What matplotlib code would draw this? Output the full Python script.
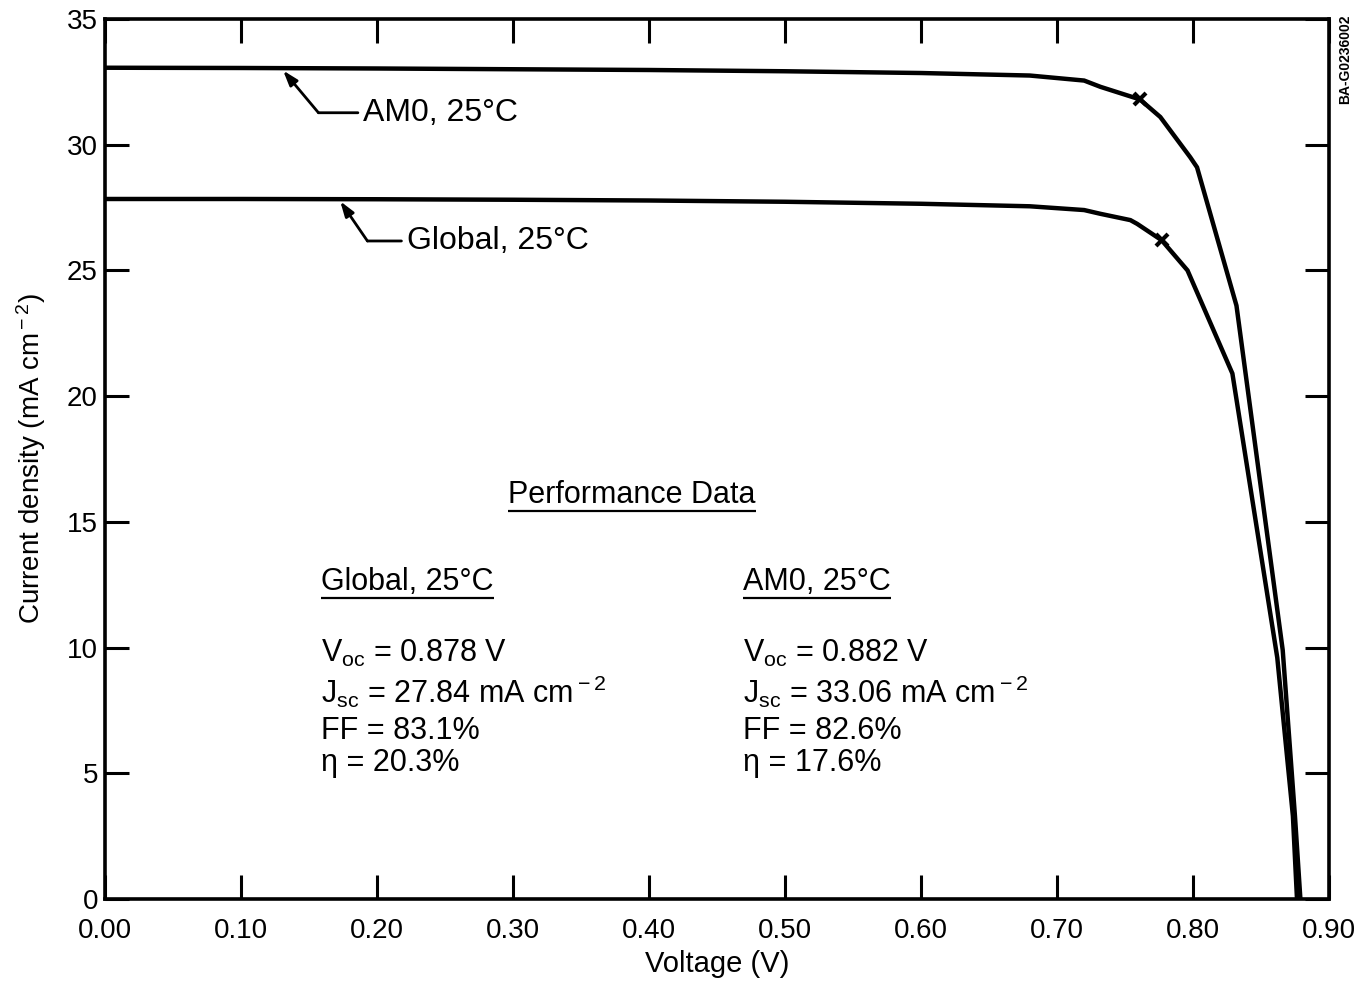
import matplotlib
matplotlib.use('Agg')
import matplotlib.pyplot as plt

# ---------------------------------------------------------------------------
# Data
# ---------------------------------------------------------------------------
am0_voltage = [0.00, 0.10, 0.20, 0.30, 0.40, 0.50, 0.60, 0.68, 0.72, 0.732,
               0.761, 0.776, 0.798, 0.803, 0.832, 0.866, 0.875, 0.879]
am0_current = [33.06, 33.05, 33.03, 33.00, 32.97, 32.92, 32.85, 32.75, 32.55, 32.3,
               31.8, 31.1, 29.5, 29.1, 23.6, 9.9, 3.3, 0.0]

global_voltage = [0.00, 0.10, 0.20, 0.30, 0.40, 0.50, 0.60, 0.68, 0.72, 0.732,
                  0.754, 0.759, 0.777, 0.796, 0.829, 0.862, 0.8735, 0.8765]
global_current = [27.84, 27.84, 27.83, 27.81, 27.78, 27.73, 27.65, 27.55, 27.4, 27.25,
                  27.0, 26.85, 26.2, 25.0, 20.9, 9.6, 3.3, 0.0]

# maximum power points
mpp_voltage = [0.761, 0.777]
mpp_current = [31.8, 26.2]

x_ticks = [0.0, 0.1, 0.2, 0.3, 0.4, 0.5, 0.6, 0.7, 0.8, 0.9]
x_tick_labels = ['0.00', '0.10', '0.20', '0.30', '0.40', '0.50', '0.60', '0.70', '0.80', '0.90']
y_ticks = [0, 5, 10, 15, 20, 25, 30, 35]

global_lines = [r'V$_{\rm oc}$ = 0.878 V', r'J$_{\rm sc}$ = 27.84 mA cm$^{\rm -2}$',
                'FF = 83.1%', 'η = 20.3%']
am0_lines = [r'V$_{\rm oc}$ = 0.882 V', r'J$_{\rm sc}$ = 33.06 mA cm$^{\rm -2}$',
             'FF = 82.6%', 'η = 17.6%']

# ---------------------------------------------------------------------------
# Style
# ---------------------------------------------------------------------------
plt.rcParams['font.family'] = ['Liberation Sans', 'DejaVu Sans']
plt.rcParams['mathtext.fontset'] = 'custom'
plt.rcParams['mathtext.rm'] = 'Liberation Sans'
plt.rcParams['mathtext.it'] = 'Liberation Sans:italic'
plt.rcParams['mathtext.bf'] = 'Liberation Sans:bold'

TEXT_SIZE = 22

fig = plt.figure(figsize=(13.54, 9.82), dpi=100)
ax = fig.add_axes([0.0775, 0.0845, 0.904, 0.8962])

ax.plot(am0_voltage, am0_current, color='black', lw=3.2, solid_joinstyle='miter')
ax.plot(global_voltage, global_current, color='black', lw=3.2, solid_joinstyle='miter')
ax.plot(mpp_voltage, mpp_current, ls='none', marker='x', ms=9, mew=3, color='black')

ax.set_xlim(0, 0.90)
ax.set_ylim(0, 35)
ax.set_xticks(x_ticks)
ax.set_xticklabels(x_tick_labels)
ax.set_yticks(y_ticks)
ax.tick_params(direction='in', length=17, width=2.2, top=True, right=True,
               labelsize=20)
ax.tick_params(axis='x', pad=14)
ax.tick_params(axis='y', pad=5)
for s in ax.spines.values():
    s.set_linewidth(2.6)

ax.set_xlabel('Voltage (V)', fontsize=21, labelpad=4)
ax.set_ylabel(r'Current density (mA cm$^{\rm -2}$)', fontsize=20, labelpad=14)

# curve labels with leader arrows
def curve_label(text, tip, elbow, pos):
    ax.annotate('', xy=tip, xytext=elbow,
                arrowprops=dict(arrowstyle='-|>,head_length=0.9,head_width=0.3',
                                color='black', lw=2, shrinkA=0, shrinkB=0))
    ax.annotate('', xy=elbow, xytext=(pos[0] - 0.004, pos[1]),
                arrowprops=dict(arrowstyle='-', color='black', lw=2,
                                shrinkA=0, shrinkB=0))
    ax.text(pos[0], pos[1], text, fontsize=TEXT_SIZE + 1, ha='left', va='center')

curve_label('AM0, 25°C', (0.131, 32.95), (0.157, 31.27), (0.190, 31.27))
curve_label('Global, 25°C', (0.173, 27.75), (0.193, 26.17), (0.222, 26.17))

# performance data block
texts_to_underline = []
t = ax.text(0.3875, 16.07, 'Performance Data', fontsize=TEXT_SIZE, ha='center', va='center')
texts_to_underline.append(t)

col_x = [0.159, 0.469]
col_titles = ['Global, 25°C', 'AM0, 25°C']
col_lines = [global_lines, am0_lines]
row_y = [9.75, 8.25, 6.7, 5.4]
for cx, title, lines in zip(col_x, col_titles, col_lines):
    t = ax.text(cx, 12.6, title, fontsize=TEXT_SIZE, ha='left', va='center')
    texts_to_underline.append(t)
    for ry, line in zip(row_y, lines):
        ax.text(cx, ry, line, fontsize=TEXT_SIZE, ha='left', va='center')

fig.canvas.draw()
renderer = fig.canvas.get_renderer()
inv = ax.transData.inverted()
for t in texts_to_underline:
    bb = t.get_window_extent(renderer)
    (x0, y0), (x1, _) = inv.transform([(bb.x0, bb.y0 - 1), (bb.x1, bb.y0)])
    ax.plot([x0, x1], [y0, y0], color='black', lw=1.6, solid_capstyle='butt')

fig.text(0.9935, 0.985, 'BA-G0236002', rotation=90, fontsize=10, fontweight='bold',
         ha='center', va='top')

fig.savefig('out.png', dpi=100, facecolor='white')
